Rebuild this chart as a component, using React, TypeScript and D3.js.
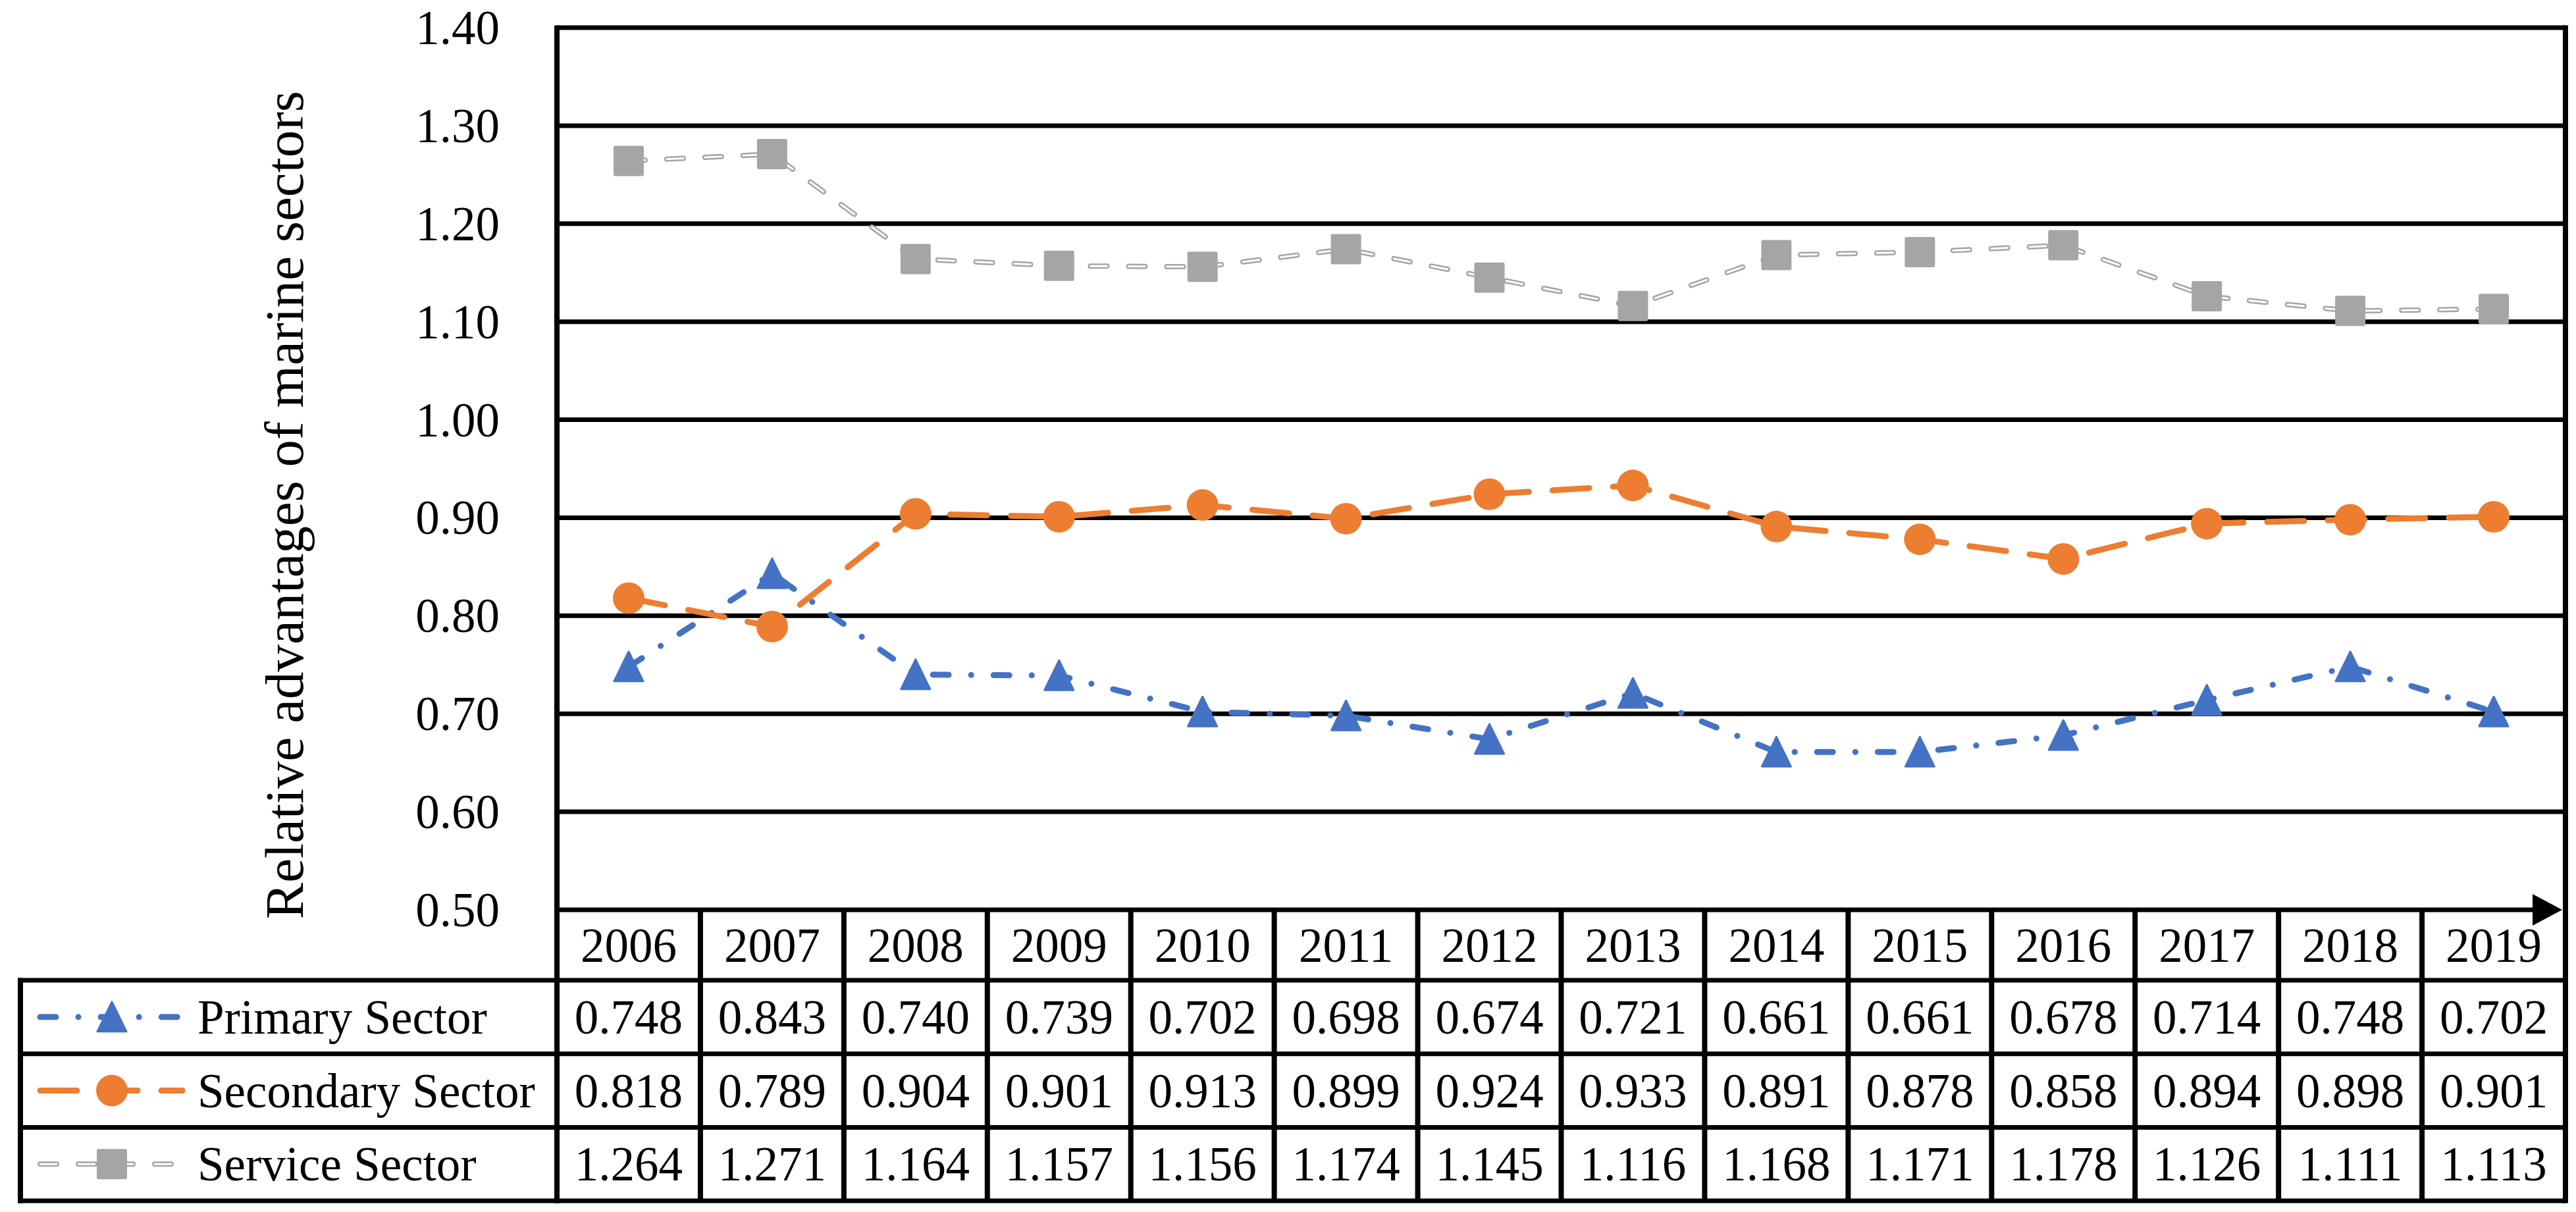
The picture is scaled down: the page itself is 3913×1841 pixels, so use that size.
import React, { useEffect, useRef } from 'react';
import * as d3 from 'd3';

const years = ['2006', '2007', '2008', '2009', '2010', '2011', '2012', '2013', '2014', '2015', '2016', '2017', '2018', '2019'];
const primary = [0.748, 0.843, 0.74, 0.739, 0.702, 0.698, 0.674, 0.721, 0.661, 0.661, 0.678, 0.714, 0.748, 0.702];
const secondary = [0.818, 0.789, 0.904, 0.901, 0.913, 0.899, 0.924, 0.933, 0.891, 0.878, 0.858, 0.894, 0.898, 0.901];
const service = [1.264, 1.271, 1.164, 1.157, 1.156, 1.174, 1.145, 1.116, 1.168, 1.171, 1.178, 1.126, 1.111, 1.113];
const seriesNames = ['Primary Sector', 'Secondary Sector', 'Service Sector'];
const yLabel = 'Relative advantages of marine sectors';

const FONT = '"Liberation Serif", "Times New Roman", serif';

const App = () => {
  const svgRef = useRef<SVGSVGElement>(null);

  useEffect(() => {
    const width = 3913;
    const height = 1841;
    const plotL = 846;
    const plotR = 3897;
    const plotT = 42;
    const plotB = 1382;
    const tableL = 31;
    const headerB = 1489;
    const rowH = 111.7;
    const tableB = headerB + rowH * 3;
    const fs = 73;

    const svg = d3.select(svgRef.current).attr('width', width).attr('height', height);
    svg.selectAll('*').remove();
    svg.append('rect').attr('width', width).attr('height', height).attr('fill', '#fff');

    const x = d3.scaleBand().domain(years).range([plotL, plotR]);
    const cx = (yr: string) => (x(yr) as number) + x.bandwidth() / 2;
    const y = d3.scaleLinear().domain([0.5, 1.4]).range([plotB, plotT]);

    // gridlines + tick labels
    const ticks = y.ticks(9);
    svg
      .append('g')
      .selectAll('line')
      .data(ticks.filter((t) => t > 0.5 + 1e-9))
      .enter()
      .append('line')
      .attr('x1', plotL)
      .attr('x2', plotR)
      .attr('y1', (d) => y(d))
      .attr('y2', (d) => y(d))
      .attr('stroke', '#000')
      .attr('stroke-width', 7);

    svg
      .append('g')
      .selectAll('text')
      .data(ticks)
      .enter()
      .append('text')
      .attr('x', 759)
      .attr('y', (d) => y(d) + 25)
      .attr('text-anchor', 'end')
      .attr('font-family', FONT)
      .attr('font-size', fs)
      .text((d) => d3.format('.2f')(d));

    // y label
    svg
      .append('text')
      .attr('transform', `translate(460, 767) rotate(-90)`)
      .attr('text-anchor', 'middle')
      .attr('font-family', FONT)
      .attr('font-size', 83)
      .text(yLabel);

    // frame
    svg.append('line').attr('x1', plotL).attr('x2', plotL).attr('y1', plotT - 3.5).attr('y2', tableB + 3.5).attr('stroke', '#000').attr('stroke-width', 8);
    svg.append('line').attr('x1', plotR).attr('x2', plotR).attr('y1', plotT - 3.5).attr('y2', tableB + 3.5).attr('stroke', '#000').attr('stroke-width', 8);

    // x axis with arrow
    svg.append('line').attr('x1', plotL).attr('x2', plotR - 40).attr('y1', plotB).attr('y2', plotB).attr('stroke', '#000').attr('stroke-width', 7);
    svg
      .append('path')
      .attr('d', `M${plotR - 50},${plotB - 24} L${plotR - 5},${plotB} L${plotR - 50},${plotB + 24} Z`)
      .attr('fill', '#000');

    // table lines
    const tg = svg.append('g');
    [0, 1, 2, 3].forEach((i) => {
      tg.append('line')
        .attr('x1', tableL - 4)
        .attr('x2', plotR)
        .attr('y1', headerB + i * rowH)
        .attr('y2', headerB + i * rowH)
        .attr('stroke', '#000')
        .attr('stroke-width', 7);
    });
    tg.append('line').attr('x1', tableL).attr('x2', tableL).attr('y1', headerB - 3.5).attr('y2', tableB + 3.5).attr('stroke', '#000').attr('stroke-width', 8);
    years.slice(1).forEach((yr) => {
      tg.append('line')
        .attr('x1', x(yr) as number)
        .attr('x2', x(yr) as number)
        .attr('y1', plotB)
        .attr('y2', tableB)
        .attr('stroke', '#000')
        .attr('stroke-width', 8);
    });

    // year header
    tg.selectAll('text.year')
      .data(years)
      .enter()
      .append('text')
      .attr('class', 'year')
      .attr('x', (d) => cx(d))
      .attr('y', (plotB + headerB) / 2 + 25)
      .attr('text-anchor', 'middle')
      .attr('font-family', FONT)
      .attr('font-size', fs)
      .text((d) => d);

    const series = [
      { name: seriesNames[0], values: primary, color: '#4472C4', dash: '24,34,0.1,34', width: 9, marker: 'triangle' },
      { name: seriesNames[1], values: secondary, color: '#ED7D31', dash: '56,36', width: 9, marker: 'circle' },
      { name: seriesNames[2], values: service, color: '#A5A5A5', dash: '25,33', width: 8, marker: 'square' },
    ];

    const line = d3
      .line<number>()
      .x((_, i) => cx(years[i]))
      .y((d) => y(d));

    const drawMarker = (g: any, kind: string, px: number, py: number, color: string) => {
      if (kind === 'triangle') {
        g.append('path')
          .attr('d', `M${px},${py - 23} L${px + 22},${py + 22} L${px - 22},${py + 22} Z`)
          .attr('fill', color)
          .attr('stroke', color)
          .attr('stroke-width', 3)
          .attr('stroke-linejoin', 'round');
      } else if (kind === 'circle') {
        g.append('ellipse').attr('cx', px).attr('cy', py).attr('rx', 24).attr('ry', 24).attr('fill', color);
      } else {
        g.append('rect')
          .attr('x', px - 23)
          .attr('y', py - 23)
          .attr('width', 46)
          .attr('height', 46)
          .attr('rx', 3)
          .attr('fill', color);
      }
    };

    const drawLine = (g: any, d: string, s: any) => {
      g.append('path')
        .attr('d', d)
        .attr('fill', 'none')
        .attr('stroke', s.color)
        .attr('stroke-width', s.width)
        .attr('stroke-dasharray', s.dash)
        .attr('stroke-linecap', 'round')
        .attr('stroke-linejoin', 'round');
      if (s.marker === 'square') {
        g.append('path')
          .attr('d', d)
          .attr('fill', 'none')
          .attr('stroke', '#fff')
          .attr('stroke-width', 3)
          .attr('stroke-dasharray', s.dash)
          .attr('stroke-linecap', 'round');
      }
    };

    const lg = svg.append('g');
    series.forEach((s) => drawLine(lg, line(s.values) as string, s));
    series.forEach((s) => {
      s.values.forEach((v, i) => drawMarker(lg, s.marker, cx(years[i]), y(v), s.color));
    });

    // table rows: legend + values
    series.forEach((s, r) => {
      const rowC = headerB + rowH * r + rowH / 2;
      drawLine(lg, `M61,${rowC} L277,${rowC}`, s);
      drawMarker(lg, s.marker, 170, rowC, s.color);
      tg.append('text')
        .attr('x', 300)
        .attr('y', rowC + 25)
        .attr('font-family', FONT)
        .attr('font-size', fs)
        .text(s.name);
      tg.selectAll(`text.v${r}`)
        .data(s.values)
        .enter()
        .append('text')
        .attr('class', `v${r}`)
        .attr('x', (_, i) => cx(years[i]))
        .attr('y', rowC + 25)
        .attr('text-anchor', 'middle')
        .attr('font-family', FONT)
        .attr('font-size', fs)
        .text((d) => d3.format('.3f')(d));
    });
  }, []);

  return (
    <div style={{ position: 'absolute', left: 0, top: 0 }}>
      <svg ref={svgRef} style={{ display: 'block' }}></svg>
    </div>
  );
};

export default App;
